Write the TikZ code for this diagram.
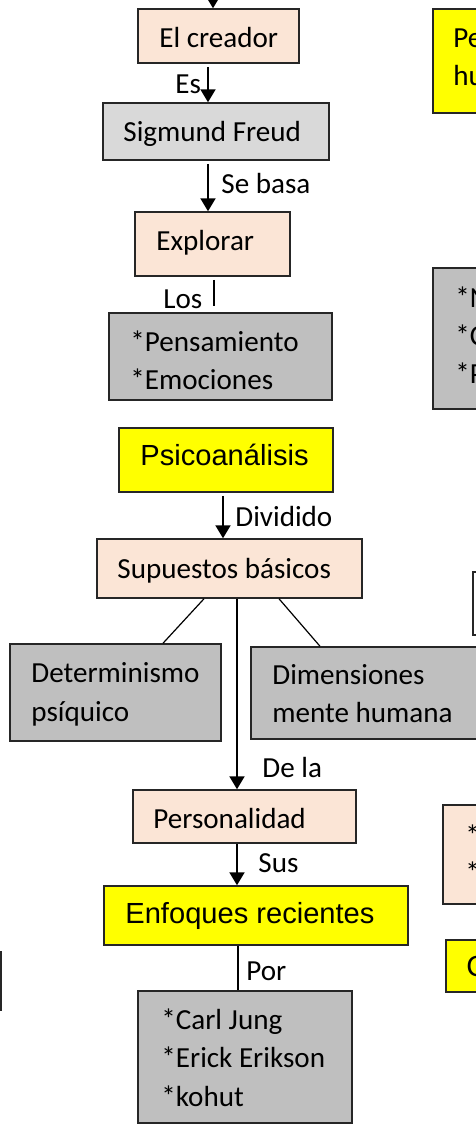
\documentclass[tikz,border=0pt]{standalone}
\usepackage{fontspec}
\setmainfont{Carlito}
\newfontfamily\arialf{Liberation Sans}
\usetikzlibrary{arrows.meta,fit}
\definecolor{peach}{HTML}{FBE5D6}
\definecolor{lgray}{HTML}{D9D9D9}
\definecolor{mgray}{HTML}{BFBFBF}
\definecolor{yel}{HTML}{FFFF00}
\definecolor{edge}{HTML}{262626}
\begin{document}
\begin{tikzpicture}[x=0.5pt,y=-0.5pt,
  box/.style={draw=edge, line width=0.75pt, inner sep=0pt, rectangle},
  pbox/.style={box, fill=peach},
  lbox/.style={box, fill=lgray},
  gbox/.style={box, fill=mgray},
  ybox/.style={box, fill=yel},
  wbox/.style={box, fill=white},
  txt/.style={anchor=base west, inner sep=0pt, font=\fontsize{14.55}{17}\selectfont},
  atxt/.style={anchor=base west, inner sep=0pt, font=\arialf\fontsize{14.55}{17}\selectfont},
  arr/.style={-{Triangle[width=7.5pt,length=6.5pt]}, line width=1pt, draw=black},
  ln/.style={line width=0.6pt, draw=black}]
\useasboundingbox (0,0) rectangle (476,1125);
\clip (0,0) rectangle (476,1125);

% main column boxes
\node[pbox, fit={(138,9)(299,63)}] (creador) {};
\node[txt] (creadorT) at (159,47) {El creador};
\node[lbox, fit={(103,103)(329,160)}] (freud) {};
\node[txt] (freudT) at (123,141) {Sigmund Freud};
\node[pbox, fit={(135,212)(290,276)}] (explorar) {};
\node[txt] (explorarT) at (156,250) {Explorar};
\node[gbox, fit={(109,313)(332,400)}] (pens) {};
\node[txt] (pensT1) at (130,351) {*Pensamiento};
\node[txt] (pensT2) at (130,389) {*Emociones};
\node[ybox, fit={(119,428)(333,492)}] (psico) {};
\node[atxt] (psicoT) at (140,465) {Psicoanálisis};
\node[pbox, fit={(97,539)(362,598)}] (sup) {};
\node[txt] (supT) at (117,578) {Supuestos básicos};
\node[gbox, fit={(10,644)(221,741)}] (det) {};
\node[txt] (detT1) at (31,682) {Determinismo};
\node[txt] (detT2) at (31,721) {psíquico};
\node[gbox, fit={(251,647)(560,739)}] (dim) {};
\node[txt] (dimT1) at (272,684) {Dimensiones};
\node[txt] (dimT2) at (272,722) {mente humana};
\node[pbox, fit={(133,790)(356,843)}] (pers) {};
\node[txt] (persT) at (153,828) {Personalidad};
\node[ybox, fit={(104,886)(408,945)}] (enf) {};
\node[atxt] (enfT) at (125,923) {Enfoques recientes};
\node[gbox, fit={(138,991)(352,1123)}] (aut) {};
\node[txt] (autT1) at (161,1029) {*Carl Jung};
\node[txt] (autT2) at (161,1067) {*Erick Erikson};
\node[txt] (autT3) at (161,1106) {*kohut};

% partial boxes at the edges
\node[ybox, fit={(433,9)(560,113)}] (r1) {};
\node[txt] (r1T1) at (453,47) {Pe};
\node[txt] (r1T2) at (453,85) {hu};
\node[gbox, fit={(433,268)(560,409)}] (r2) {};
\node[txt] (r2T1) at (455,307) {*N};
\node[txt] (r2T2) at (455,345) {*C};
\node[txt] (r2T3) at (455,383) {*P};
\node[wbox, fit={(473,572)(560,635)}] (r3) {};
\node[pbox, fit={(443,805)(560,904)}] (r4) {};
\node[txt] (r4T1) at (465,845) {*};
\node[txt] (r4T2) at (465,882) {*};
\node[ybox, fit={(446,940)(560,992)}] (r5) {};
\node[atxt] (r5T) at (466,976) {C};
\node[wbox, fit={(-80,952)(1,1010)}] (l1) {};

% connectors
\coordinate (topin) at (213,-20);
\draw[arr] (topin) -- (creador.north -| topin);
\coordinate (xa) at (208,0);
\draw[arr, shorten <=1.5pt] (creador.south -| xa) -- (freud.north -| xa);
\node[txt] (esL) at (175,93) {Es};
\draw[arr, shorten <=1.5pt] (freud.south -| xa) -- (explorar.north -| xa);
\node[txt] (sebL) at (221,193) {Se basa};
\coordinate (xb) at (214,0);
\draw[ln, shorten <=1.5pt, shorten >=3pt] (explorar.south -| xb) -- (pens.north -| xb);
\node[txt] (losL) at (163,308) {Los};
\coordinate (xc) at (223,0);
\draw[arr, shorten <=1.5pt] (psico.south -| xc) -- (sup.north -| xc);
\node[txt] (divL) at (235,526) {Dividido};
\coordinate (xd) at (237,0);
\draw[arr] (sup.south -| xd) -- (pers.north -| xd);
\node[txt] (delaL) at (262,777) {De la};
\draw[arr] (pers.south -| xd) -- (enf.north -| xd);
\node[txt] (susL) at (258,872) {Sus};
\coordinate (xe) at (238,0);
\draw[ln] (enf.south -| xe) -- (aut.north -| xe);
\node[txt] (porL) at (246,980) {Por};
\coordinate (d1) at (204,0);
\coordinate (d2) at (163,0);
\coordinate (d3) at (279,0);
\coordinate (d4) at (320,0);
\draw[ln] (sup.south -| d1) -- (det.north -| d2);
\draw[ln] (sup.south -| d3) -- (dim.north -| d4);
\end{tikzpicture}
\end{document}
